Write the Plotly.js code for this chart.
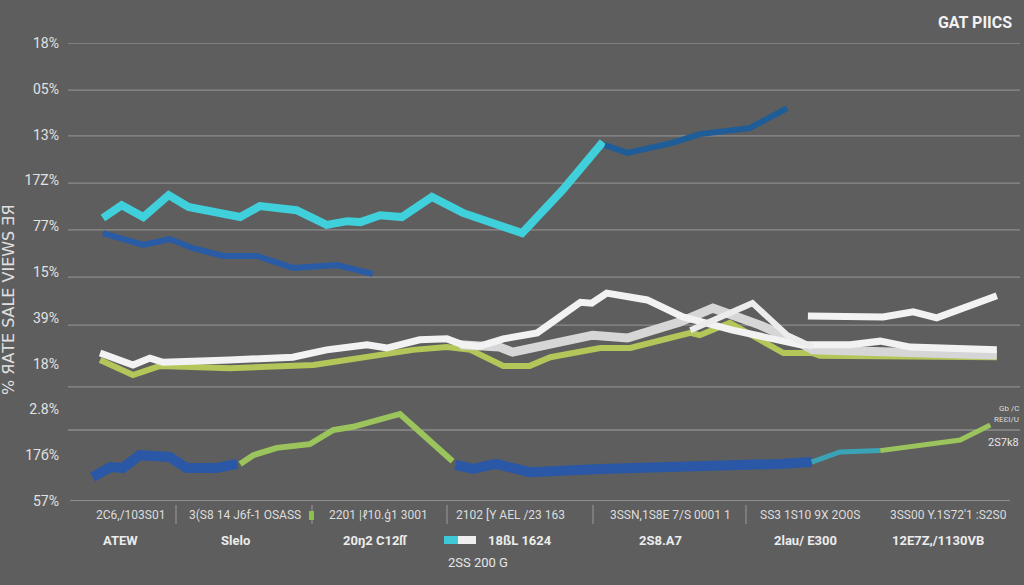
<!DOCTYPE html>
<html>
<head>
<meta charset="utf-8">
<script src="https://cdn.plot.ly/plotly-3.0.1.min.js"></script>
<style>html,body{margin:0;padding:0;background:#5e5e5e;}#chart{width:1024px;height:585px;}</style>
</head>
<body>
<div id="chart"></div>
<script>
// ---- data (x in period units 0-100, y in axis units 0-10) ----
const yTickVals = [0,1,2,3,4,5,6,7,8,9,10];
const yTickText = ["57%","17б%","2.8%","18%","39%","15%","77%","17Z%","13%","05%","18%"];
const gridLevels = [10, 8.97, 7.97, 6.94, 5.92, 4.89, 3.84, 2.49, 1.55];

const cyanX = [3.5,5.5,7.8,10.5,12.6,18.1,20.2,24.1,27.3,29.5,30.9,33.0,35.3,38.5,41.8,45.4,48.1,52.4,56.7];
const cyanY = [6.18,6.46,6.20,6.68,6.42,6.20,6.44,6.35,6.03,6.11,6.09,6.24,6.20,6.64,6.29,6.03,5.85,6.79,7.84];

const navyRightX = [56.9,59.3,64.1,67.0,72.3,76.3];
const navyRightY = [7.77,7.60,7.82,8.01,8.14,8.58];

const navyLeftX = [3.5,7.8,10.6,13.1,16.3,19.9,23.7,28.4,32.2];
const navyLeftY = [5.85,5.59,5.72,5.52,5.35,5.35,5.09,5.15,4.96];

const whiteAX = [3.2,6.7,8.5,9.9,17.0,23.7,27.3,31.6,33.7,37.2,40.1,41.8,43.6,46.1,49.7,54.3,55.5,57.1,61.4,65.2,70.5,77.7,83.0,86.2,89.4,93.6,98.6];
const whiteAY = [3.23,2.97,3.12,3.03,3.08,3.14,3.30,3.41,3.34,3.52,3.54,3.41,3.38,3.54,3.67,4.34,4.32,4.54,4.39,4.02,3.73,3.41,3.41,3.49,3.36,3.32,3.30];

const whiteBX = [41.5,45.7,47.1,55.6,59.3,64.9,68.4,73.4,77.7,79.0,88.3,98.6];
const whiteBY = [3.41,3.36,3.25,3.62,3.56,3.91,4.21,3.84,3.45,3.30,3.25,3.19];

const whiteCX = [66.0,72.6,76.3,79.0];
const whiteCY = [3.73,4.32,3.62,3.36];

const whiteDX = [78.5,86.5,89.7,92.2,98.6];
const whiteDY = [4.04,4.02,4.13,4.00,4.48];

const oliveX = [3.2,6.7,9.6,17.0,25.9,33.0,36.5,40.1,42.6,46.1,48.9,51.1,56.4,59.6,66.0,67.0,70.2,75.9,79.0,79.8,98.6];
const oliveY = [3.08,2.75,2.95,2.90,2.97,3.19,3.30,3.36,3.30,2.95,2.95,3.14,3.34,3.34,3.67,3.62,3.89,3.23,3.23,3.17,3.14];

const greenLowLX = [18.1,19.5,22.0,25.5,28.0,30.1,35.1,40.7];
const greenLowLY = [0.81,1.00,1.16,1.24,1.55,1.62,1.90,0.87];

const greenLowRX = [86.2,90.4,94.7,97.9];
const greenLowRY = [1.10,1.22,1.33,1.66];

const tealLowX = [78.9,81.9,86.2];
const tealLowY = [0.85,1.07,1.10];

const blueLowLX = [2.4,4.3,5.6,7.4,10.6,12.4,15.6,17.8];
const blueLowLY = [0.52,0.74,0.72,1.00,0.96,0.72,0.72,0.81];

const blueLowRX = [41.0,42.9,45.3,48.9,56.4,67.0,75.5,78.9];
const blueLowRY = [0.79,0.70,0.81,0.63,0.70,0.74,0.81,0.85];

const xLabelsRow1 = ["2C6,/103S01","3(S8 14 J6f-1 OSASS","2201 |ℓ10.ģ1 3001","2102 [Y AEL /23 163","3SSN,1S8E 7/S 0001 1","SS3 1S10 9X 2O0S","3SS00 Y.1S72'1 :S2S0"];
const xLabelsRow1Px = [130,245,378,510,670,810,948];
const xLabelsRow2 = ["ATEW","Slelo","20ŋ2 C12ſſ","18ßL 1624","2S8.A7","2lau/ E300","12E7Z,/1130VB"];
const xLabelsRow2Px = [120,235,375,520,660,805,938];
const separatorsPx = [176,312,447,593,746];
const titleText = "GAT PIICS";
const sideTitle = "% ЯАТЕ ЅАLЕ VIEWS ƎЯ";

// ---- layout helpers ----
const L = 70, R = 1010, T = 43, B = 501;
const px2x = p => (p - L) / (R - L);
const py2y = p => (B - p) / (B - T);

function line(x, y, color, width, opacity) {
  return {x: x, y: y, type: 'scatter', mode: 'lines',
    line: {color: color, width: width, shape: 'linear'},
    opacity: opacity === undefined ? 1 : opacity,
    hoverinfo: 'skip', showlegend: false, cliponaxis: false};
}

const traces = [
  line(blueLowLX, blueLowLY, '#2a58a6', 10),
  line(blueLowRX, blueLowRY, '#2a58a6', 10),
  line(tealLowX, tealLowY, '#3aa4b6', 5),
  line(greenLowLX, greenLowLY, '#9cc45c', 6),
  line(greenLowRX, greenLowRY, '#9cc45c', 5),
  line(oliveX, oliveY, '#b2c65a', 6),
  line(whiteBX, whiteBY, '#d6d6d6', 9),
  line(whiteAX, whiteAY, '#f2f2f2', 7),
  line(whiteCX, whiteCY, '#ececec', 6),
  line(whiteDX, whiteDY, '#f2f2f2', 7),
  line(navyLeftX, navyLeftY, '#2a5ca6', 6),
  line(cyanX, cyanY, '#3fd0dc', 8),
  line(navyRightX, navyRightY, '#1f5d98', 6)
];

const shapes = [];
gridLevels.forEach(g => shapes.push({type:'line', xref:'paper', yref:'y', x0: px2x(68), x1: px2x(1020), y0: g, y1: g,
  line:{color:'#8c8c8c', width:1.3}, layer:'below'}));
shapes.push({type:'line', xref:'paper', yref:'y', x0: px2x(70), x1: px2x(1010), y0: 0, y1: 0, line:{color:'#a0a0a0', width:1.3}, layer:'below'});
separatorsPx.forEach(p => shapes.push({type:'line', xref:'paper', yref:'paper', x0: px2x(p), x1: px2x(p), y0: py2y(505), y1: py2y(524),
  line:{color:'#9a9a9a', width:1}}));
// legend swatches
shapes.push({type:'rect', xref:'paper', yref:'paper', x0: px2x(309), x1: px2x(314), y0: py2y(520), y1: py2y(511), fillcolor:'#8cc04a', line:{width:0}});
shapes.push({type:'rect', xref:'paper', yref:'paper', x0: px2x(444), x1: px2x(458), y0: py2y(544), y1: py2y(536), fillcolor:'#3fc8d6', line:{width:0}});
shapes.push({type:'rect', xref:'paper', yref:'paper', x0: px2x(458), x1: px2x(476), y0: py2y(544), y1: py2y(536), fillcolor:'#eeeeee', line:{width:0}});

const lblFont = {family:'Roboto, Liberation Sans, sans-serif', size:12, color:'#dcdcdc'};
const annotations = [];
xLabelsRow1.forEach((t,i) => annotations.push({text:t, xref:'paper', yref:'paper', x: px2x(xLabelsRow1Px[i]), y: py2y(515),
  showarrow:false, xanchor:'center', yanchor:'middle', font: lblFont}));
xLabelsRow2.forEach((t,i) => annotations.push({text:t, xref:'paper', yref:'paper', x: px2x(xLabelsRow2Px[i]), y: py2y(540),
  showarrow:false, xanchor:'center', yanchor:'middle', font:{family:'Roboto, Liberation Sans, sans-serif', size:13, color:'#ececec', weight: 'bold'}}));
annotations.push({text:"2SS 200 G", xref:'paper', yref:'paper', x: px2x(478), y: py2y(562), showarrow:false, xanchor:'center', yanchor:'middle',
  font:{family:'Roboto, Liberation Sans, sans-serif', size:13, color:'#e6e6e6'}});
annotations.push({text: sideTitle, xref:'paper', yref:'paper', x: px2x(9), y: py2y(300), textangle:-90, showarrow:false,
  xanchor:'center', yanchor:'middle', font:{family:'DejaVu Sans, sans-serif', size:16, color:'#e0e0e0'}});
annotations.push({text:"Gb /C", xref:'paper', yref:'paper', x: px2x(1021), y: py2y(408), showarrow:false, xanchor:'right', yanchor:'middle',
  font:{family:'Roboto, sans-serif', size:8, color:'#dddddd'}});
annotations.push({text:"REƐI/U", xref:'paper', yref:'paper', x: px2x(1021), y: py2y(419), showarrow:false, xanchor:'right', yanchor:'middle',
  font:{family:'Roboto, sans-serif', size:8, color:'#dddddd'}});
annotations.push({text:"2S7k8", xref:'paper', yref:'paper', x: px2x(1021), y: py2y(442), showarrow:false, xanchor:'right', yanchor:'middle',
  font:{family:'Roboto, sans-serif', size:11, color:'#e6e6e6'}});

const layout = {
  width: 1024, height: 585,
  paper_bgcolor: '#5e5e5e', plot_bgcolor: '#5e5e5e',
  margin: {l: L, r: 1024 - R, t: T, b: 585 - B},
  title: {text: titleText, x: 975/1024, y: 1 - 22/585, xanchor:'center', yanchor:'middle',
    font: {family:'Roboto, Liberation Sans, sans-serif', size:16, color:'#f2f2f2', weight:'bold'}},
  xaxis: {range: [0, 100], showgrid:false, zeroline:false, showline:false, showticklabels:false, ticks:''},
  yaxis: {range: [0, 10], tickvals: yTickVals, ticktext: yTickText, showgrid:false, zeroline:false, showline:false,
    ticks:'', ticklabelstandoff: 10, tickfont:{family:'Roboto, Liberation Sans, sans-serif', size:14, color:'#e2e2e2'}},
  shapes: shapes,
  annotations: annotations,
  showlegend: false
};

Plotly.newPlot('chart', traces, layout, {displayModeBar:false, staticPlot:true});
</script>
</body>
</html>
